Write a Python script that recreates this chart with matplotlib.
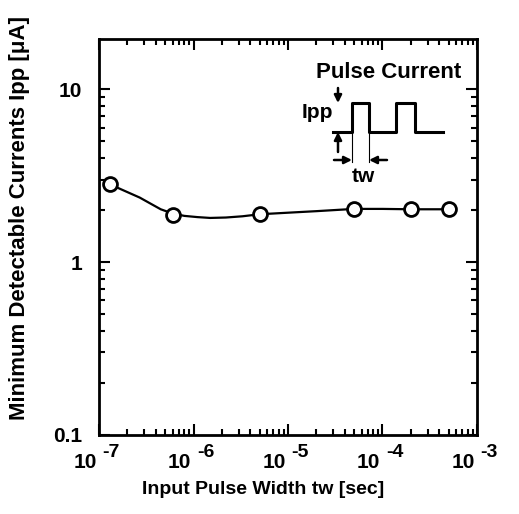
import matplotlib
matplotlib.use("Agg")
import matplotlib.pyplot as plt
from matplotlib.ticker import LogLocator, NullFormatter, FixedLocator, FixedFormatter
from matplotlib.transforms import offset_copy

plt.rcParams['font.family'] = ['Liberation Sans', 'DejaVu Sans']
plt.rcParams['font.weight'] = 'bold'

# measured points
pulse_width = [1.3e-7, 6e-7, 5e-6, 5e-5, 2e-4, 5e-4]
min_current = [2.82, 1.87, 1.89, 2.04, 2.02, 2.02]

# smooth guide line
curve_x = [1.3e-7, 1.7e-7, 2.2e-7, 2.7e-7, 3.5e-7, 4.5e-7, 6e-7, 8e-7, 1.1e-6,
           1.5e-6, 2.2e-6, 3.3e-6, 5e-6, 1e-5, 2e-5, 5e-5, 1e-4, 2e-4, 5e-4]
curve_y = [2.82, 2.64, 2.48, 2.36, 2.18, 2.02, 1.91, 1.85, 1.82,
           1.80, 1.81, 1.84, 1.89, 1.93, 1.97, 2.03, 2.03, 2.02, 2.02]

xticks = [1e-7, 1e-6, 1e-5, 1e-4, 1e-3]
xexponents = ['-7', '-6', '-5', '-4', '-3']
yticks = [0.1, 1, 10]
yticklabels = ['0.1', '1', '10']

fig = plt.figure(figsize=(5.19, 5.14), dpi=100)
W, H = 519, 514
ax = fig.add_axes([99 / W, 1 - 435 / H, (477 - 99) / W, (435 - 39) / H])

ax.plot(curve_x, curve_y, color='black', lw=1.6, zorder=2)
ax.plot(pulse_width, min_current, 'o', ms=10, mfc='white', mec='black', mew=2.0, zorder=3)

ax.set_xscale('log')
ax.set_yscale('log')
ax.set_xlim(1e-7, 1e-3)
ax.set_ylim(0.1, 19.5)

ax.xaxis.set_major_locator(FixedLocator(xticks))
ax.xaxis.set_major_formatter(NullFormatter())
ax.xaxis.set_minor_locator(LogLocator(base=10, subs=range(2, 10)))
ax.xaxis.set_minor_formatter(NullFormatter())
ax.yaxis.set_major_locator(FixedLocator(yticks))
ax.yaxis.set_major_formatter(FixedFormatter(yticklabels))
ax.yaxis.set_minor_locator(LogLocator(base=10, subs=range(2, 10)))
ax.yaxis.set_minor_formatter(NullFormatter())

ax.tick_params(which='both', direction='in', top=True, right=True, width=1.5)
ax.tick_params(which='major', length=8)
ax.tick_params(which='minor', length=4.5)
ax.tick_params(axis='y', labelsize=15, pad=12)
for s in ax.spines.values():
    s.set_linewidth(2)

# x tick labels: "10" with a large raised exponent, like the original
xtr = ax.get_xaxis_transform()
for xt, ex in zip(xticks, xexponents):
    ax.text(xt, 0, '10', transform=offset_copy(xtr, fig=fig, x=-1.5, y=-24, units='points'),
            ha='right', va='baseline', fontsize=15, fontweight='bold')
    ax.text(xt, 0, ex, transform=offset_copy(xtr, fig=fig, x=2.5, y=-6.5, units='points'),
            ha='left', va='top', fontsize=14, fontweight='bold')

ax.set_xlabel('Input Pulse Width tw [sec]', fontsize=14, fontweight='bold')
ax.xaxis.set_label_coords((263 - 99) / (477 - 99), (435 - 490) / (435 - 39))
ax.set_ylabel('Minimum Detectable Currents Ipp [\u03bcA]', fontsize=16, fontweight='bold')
ax.yaxis.set_label_coords((20 - 99) / (477 - 99), (435 - 218) / (435 - 39))
ax.xaxis.label.set_va('center')
ax.yaxis.label.set_va('center')

# inset sketch of the pulse current (axes fraction coordinates)
def px(x, y):
    return ((x - 99) / (477 - 99), (435 - y) / (435 - 39))

ax.text(*px(389, 72), 'Pulse Current', transform=ax.transAxes, ha='center', va='center',
        fontsize=16, fontweight='bold')
wx = [333, 352, 352, 369, 369, 396, 396, 415, 415, 443]
wy = [132, 132, 103, 103, 132, 132, 103, 103, 132, 132]
pts = [px(a, b) for a, b in zip(wx, wy)]
ax.plot([p[0] for p in pts], [p[1] for p in pts], color='black', lw=2.2,
        transform=ax.transAxes, clip_on=False)
arrow = dict(arrowstyle='-|>', color='black', lw=1.8, mutation_scale=11, shrinkA=0, shrinkB=0)
# Ipp arrows
ax.annotate('', xy=px(338, 103), xytext=px(338, 88), xycoords='axes fraction', arrowprops=arrow)
ax.annotate('', xy=px(338, 132), xytext=px(338, 152), xycoords='axes fraction', arrowprops=arrow)
ax.text(*px(317, 113), 'Ipp', transform=ax.transAxes, ha='center', va='center',
        fontsize=15, fontweight='bold')
# tw arrows
for xa in (352, 369):
    a, b = px(xa, 132), px(xa, 162)
    ax.plot([a[0], b[0]], [a[1], b[1]], color='black', lw=0.8, transform=ax.transAxes)
ax.annotate('', xy=px(352, 160), xytext=px(334, 160), xycoords='axes fraction', arrowprops=arrow)
ax.annotate('', xy=px(369, 160), xytext=px(387, 160), xycoords='axes fraction', arrowprops=arrow)
ax.text(*px(363, 177), 'tw', transform=ax.transAxes, ha='center', va='center',
        fontsize=15, fontweight='bold')

fig.savefig('out.png', dpi=100)
